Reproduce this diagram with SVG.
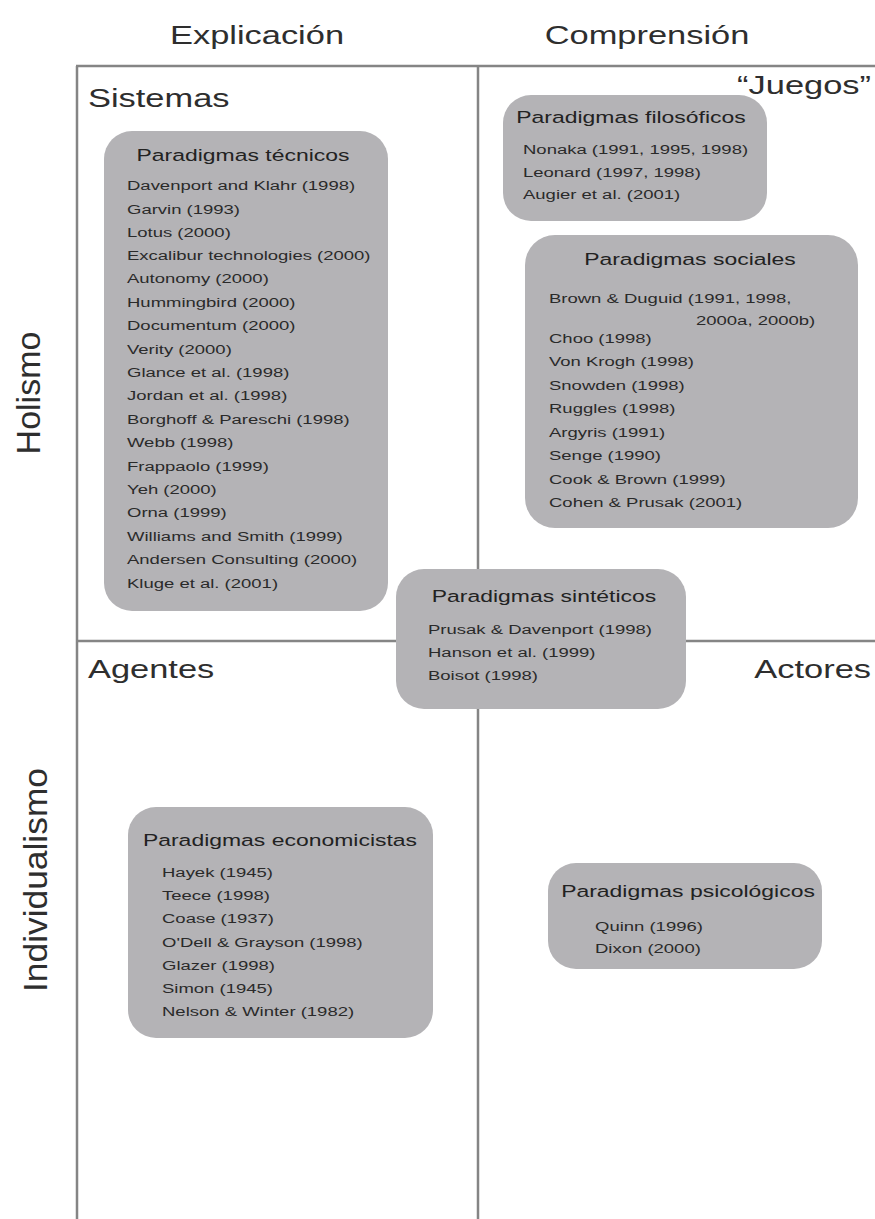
<svg xmlns="http://www.w3.org/2000/svg" width="875" height="1219" viewBox="0 0 875 1219">
<style>
text { font-family: "Liberation Sans", Arial, Helvetica, sans-serif; }
.big { font-size: 25.5px; fill: #2e2e2e; }
.rot { font-size: 34px; fill: #2e2e2e; }
.title { font-size: 17px; fill: #222; text-anchor: middle; }
.item { font-size: 13.7px; fill: #2a2a2a; }
.box { fill: #b4b3b6; }
.grid { stroke: #858585; stroke-width: 2.5; fill: none; }
</style>
<rect width="875" height="1219" fill="#ffffff"/>

<g id="connectors">
  <line class="grid" x1="76" y1="66" x2="875" y2="66"/>
  <line class="grid" x1="77" y1="66" x2="77" y2="1219"/>
  <line class="grid" x1="478" y1="66" x2="478" y2="1219"/>
  <line class="grid" x1="76" y1="641" x2="875" y2="641"/>
</g>

<g id="axis-labels">
  <g transform="translate(257 0) scale(1.35 1)"><text class="big" x="0" y="44" text-anchor="middle">Explicación</text></g>
  <g transform="translate(647 0) scale(1.35 1)"><text class="big" x="0" y="44" text-anchor="middle">Comprensión</text></g>
  <text class="rot" transform="translate(40 393) rotate(-90)" text-anchor="middle">Holismo</text>
  <text class="rot" transform="translate(47 880) rotate(-90)" text-anchor="middle" textLength="224" lengthAdjust="spacingAndGlyphs">Individualismo</text>
</g>

<g id="quadrant-labels">
  <g transform="translate(88 0) scale(1.35 1)"><text class="big" x="0" y="107">Sistemas</text></g>
  <g transform="translate(871 0) scale(1.35 1)"><text class="big" x="0" y="94" text-anchor="end">“Juegos”</text></g>
  <g transform="translate(88 0) scale(1.35 1)"><text class="big" x="0" y="678">Agentes</text></g>
  <g transform="translate(871 0) scale(1.35 1)"><text class="big" x="0" y="678" text-anchor="end">Actores</text></g>
</g>

<g id="node-tecnicos">
  <rect class="box" x="104" y="131" width="284" height="480" rx="28"/>
  <g transform="translate(243 0) scale(1.35 1)"><text class="title" x="0" y="161">Paradigmas técnicos</text></g>
  <g transform="translate(127 0) scale(1.35 1)">
    <text class="item" x="0" y="190">Davenport and Klahr (1998)</text>
    <text class="item" x="0" y="214">Garvin (1993)</text>
    <text class="item" x="0" y="237">Lotus  (2000)</text>
    <text class="item" x="0" y="260">Excalibur technologies (2000)</text>
    <text class="item" x="0" y="283">Autonomy (2000)</text>
    <text class="item" x="0" y="307">Hummingbird (2000)</text>
    <text class="item" x="0" y="330">Documentum (2000)</text>
    <text class="item" x="0" y="354">Verity (2000)</text>
    <text class="item" x="0" y="377">Glance et al. (1998)</text>
    <text class="item" x="0" y="400">Jordan et al. (1998)</text>
    <text class="item" x="0" y="424">Borghoff &amp; Pareschi (1998)</text>
    <text class="item" x="0" y="447">Webb (1998)</text>
    <text class="item" x="0" y="471">Frappaolo (1999)</text>
    <text class="item" x="0" y="494">Yeh (2000)</text>
    <text class="item" x="0" y="517">Orna (1999)</text>
    <text class="item" x="0" y="541">Williams and Smith (1999)</text>
    <text class="item" x="0" y="564">Andersen Consulting (2000)</text>
    <text class="item" x="0" y="588">Kluge et al. (2001)</text>
  </g>
</g>

<g id="node-filosoficos">
  <rect class="box" x="503" y="95" width="264" height="126" rx="28"/>
  <g transform="translate(631 0) scale(1.35 1)"><text class="title" x="0" y="123">Paradigmas filosóficos</text></g>
  <g transform="translate(523 0) scale(1.35 1)">
    <text class="item" x="0" y="154">Nonaka (1991, 1995, 1998)</text>
    <text class="item" x="0" y="177">Leonard (1997, 1998)</text>
    <text class="item" x="0" y="199">Augier et al. (2001)</text>
  </g>
</g>

<g id="node-sociales">
  <rect class="box" x="525" y="235" width="333" height="293" rx="30"/>
  <g transform="translate(690 0) scale(1.35 1)"><text class="title" x="0" y="265">Paradigmas sociales</text></g>
  <g transform="translate(549 0) scale(1.35 1)">
    <text class="item" x="0" y="303">Brown &amp; Duguid (1991, 1998,</text>
    <text class="item" x="0" y="343">Choo (1998)</text>
    <text class="item" x="0" y="366">Von Krogh (1998)</text>
    <text class="item" x="0" y="390">Snowden  (1998)</text>
    <text class="item" x="0" y="413">Ruggles (1998)</text>
    <text class="item" x="0" y="437">Argyris (1991)</text>
    <text class="item" x="0" y="460">Senge (1990)</text>
    <text class="item" x="0" y="484">Cook &amp; Brown (1999)</text>
    <text class="item" x="0" y="507">Cohen &amp; Prusak (2001)</text>
  </g>
  <g transform="translate(696 0) scale(1.35 1)"><text class="item" x="0" y="325">2000a, 2000b)</text></g>
</g>

<g id="node-sinteticos">
  <rect class="box" x="396" y="569" width="290" height="140" rx="28"/>
  <g transform="translate(544 0) scale(1.35 1)"><text class="title" x="0" y="602">Paradigmas sintéticos</text></g>
  <g transform="translate(428 0) scale(1.35 1)">
    <text class="item" x="0" y="634">Prusak &amp; Davenport (1998)</text>
    <text class="item" x="0" y="657">Hanson et al. (1999)</text>
    <text class="item" x="0" y="680">Boisot (1998)</text>
  </g>
</g>

<g id="node-economicistas">
  <rect class="box" x="128" y="807" width="305" height="231" rx="28"/>
  <g transform="translate(280 0) scale(1.35 1)"><text class="title" x="0" y="846">Paradigmas economicistas</text></g>
  <g transform="translate(162 0) scale(1.35 1)">
    <text class="item" x="0" y="877">Hayek (1945)</text>
    <text class="item" x="0" y="900">Teece (1998)</text>
    <text class="item" x="0" y="923">Coase  (1937)</text>
    <text class="item" x="0" y="947">O'Dell &amp; Grayson (1998)</text>
    <text class="item" x="0" y="970">Glazer (1998)</text>
    <text class="item" x="0" y="993">Simon (1945)</text>
    <text class="item" x="0" y="1016">Nelson &amp; Winter (1982)</text>
  </g>
</g>

<g id="node-psicologicos">
  <rect class="box" x="548" y="863" width="274" height="106" rx="28"/>
  <g transform="translate(688 0) scale(1.35 1)"><text class="title" x="0" y="897">Paradigmas psicológicos</text></g>
  <g transform="translate(595 0) scale(1.35 1)">
    <text class="item" x="0" y="931">Quinn (1996)</text>
    <text class="item" x="0" y="953">Dixon (2000)</text>
  </g>
</g>
</svg>
